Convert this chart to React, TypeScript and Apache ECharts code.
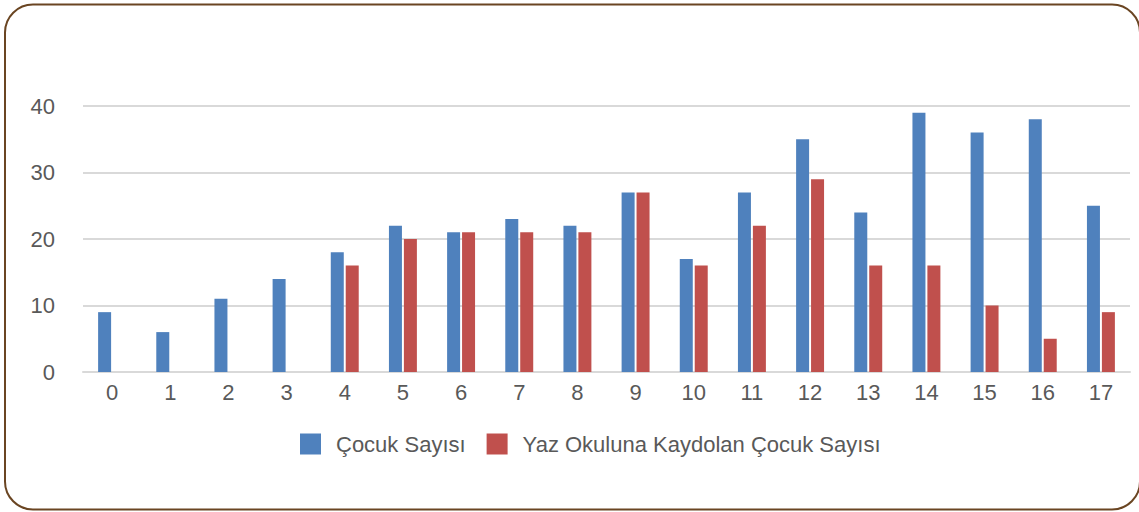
import React, { useEffect, useRef } from "react";
import * as echarts from "echarts";

const categories = ["0","1","2","3","4","5","6","7","8","9","10","11","12","13","14","15","16","17"];
const cocukSayisi = [9, 6, 11, 14, 18, 22, 21, 23, 22, 27, 17, 27, 35, 24, 39, 36, 38, 25];
const yazOkulu = [0, 0, 0, 0, 16, 20, 21, 21, 21, 27, 16, 22, 29, 16, 16, 10, 5, 9];
const seriesNames = ["Çocuk Sayısı", "Yaz Okuluna Kaydolan Çocuk Sayısı"];

export default function App() {
  const ref = useRef<HTMLDivElement>(null);
  useEffect(() => {
    if (!ref.current) return;
    const chart = echarts.init(ref.current, undefined, { renderer: "svg" });
    const font = "Liberation Sans, Arial, sans-serif";
    chart.setOption({
      animation: false,
      backgroundColor: "#ffffff",
      textStyle: { fontFamily: font },
      graphic: [
        {
          type: "rect",
          shape: { x: 5, y: 4.5, width: 1135, height: 505, r: 28 },
          style: { fill: "none", stroke: "#6a4522", lineWidth: 2 },
          silent: true,
          z: 100,
        },
      ],
      grid: { left: 83, right: 9, top: 106, bottom: 140, containLabel: false },
      legend: {
        left: 295,
        top: 428,
        itemWidth: 21,
        itemHeight: 21,
        itemGap: 21,
        icon: "rect",
        textStyle: { fontSize: 22, color: "#595959", fontFamily: font, padding: [0, 0, 0, 10] },
        data: seriesNames,
      },
      xAxis: {
        type: "category",
        data: categories,
        axisTick: { show: false },
        axisLine: { lineStyle: { color: "#d9d9d9", width: 2 } },
        axisLabel: { fontSize: 22, color: "#595959", margin: 9, fontFamily: font },
      },
      yAxis: {
        type: "value",
        min: 0,
        max: 40,
        interval: 10,
        axisLine: { show: false },
        axisTick: { show: false },
        splitLine: { lineStyle: { color: "#d9d9d9", width: 2 } },
        axisLabel: { fontSize: 22, color: "#595959", margin: 28, fontFamily: font },
      },
      series: [
        {
          name: seriesNames[0],
          type: "bar",
          data: cocukSayisi,
          barWidth: 13,
          barGap: "15%",
          itemStyle: { color: "#4f81bd" },
        },
        {
          name: seriesNames[1],
          type: "bar",
          data: yazOkulu,
          barWidth: 13,
          barGap: "15%",
          itemStyle: { color: "#c0504d" },
        },
      ],
    });
    return () => chart.dispose();
  }, []);
  return (
    <div
      ref={ref}
      style={{ position: "fixed", left: 0, top: 0, width: 1139, height: 512 }}
    />
  );
}
